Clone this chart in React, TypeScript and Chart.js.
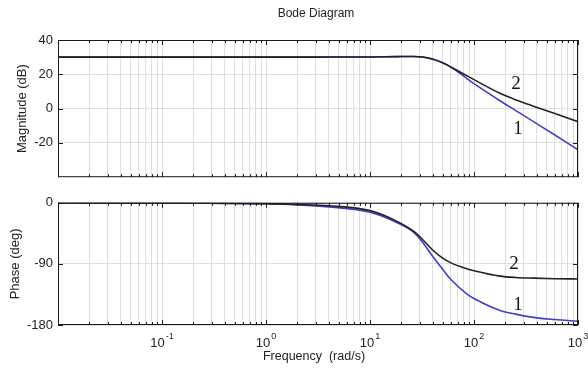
import React, { useEffect, useRef } from "react";
import { Chart, registerables } from "chart.js";

Chart.register(...registerables);

// ---- data ----
const freqs = [0.01, 0.1, 1, 2, 4, 10, 18, 26, 32, 40, 50, 60, 85, 100, 178, 250, 373, 600, 1000];

const mag1 = [30.0, 30.0, 30.0, 30.0, 30.05, 30.1, 30.3, 30.4, 30.1, 28.8, 26.6, 24.2, 17.6, 14.6, 4.6, -1.0, -7.6, -15.4, -24.0];
const mag2 = [30.0, 30.0, 30.0, 30.0, 30.05, 30.1, 30.3, 30.4, 30.1, 28.9, 26.8, 24.3, 19.2, 16.9, 8.9, 5.2, 1.4, -2.9, -7.6];

const phase1 = [-0.02, -0.15, -1.5, -3, -6, -14, -29, -43, -58, -78.6, -98, -113, -134, -141, -158.5, -164, -168.8, -172, -174.5];
const phase2 = [-0.02, -0.13, -1.3, -2.6, -4.4, -11.5, -27, -41.5, -54, -69.5, -81.5, -88.5, -97, -100, -108, -110, -111, -111.8, -112.2];

const decades = [0.01, 0.1, 1, 10, 100, 1000];
const minorMultipliers = [1, 2, 3, 4, 5, 6, 7, 8, 9];
const xLabelValues = [0.1, 1, 10, 100, 1000];
const xLabelExps = ["-1", "0", "1", "2", "3"];

const magTicks = [-20, 0, 20, 40];
const phaseTicks = [-180, -90, 0];

const magNotes = [
  { text: "2", f: 254, v: 14.5 },
  { text: "1", f: 265, v: -12 },
];
const phaseNotes = [
  { text: "2", f: 243, v: -90 },
  { text: "1", f: 265, v: -150 },
];

// ---- styling ----
const BLUE = "#4040c8";
const BLACK = "#222222";
const GRID = "#dedede";
const SANS = "'Liberation Sans', Arial, sans-serif";
const SERIF = "'Liberation Serif', 'Times New Roman', serif";

const gridFreqs: number[] = [];
decades.forEach((d) => {
  minorMultipliers.forEach((m) => {
    const v = +(d * m).toPrecision(3);
    if (v <= 1000) gridFreqs.push(v);
  });
});

function pts(ys: number[]) {
  return freqs.map((f, i) => ({ x: f, y: ys[i] }));
}

function panelPlugin(o: {
  yTicks: number[];
  yTitle: string;
  yTitleOffset: number;
  notes: { text: string; f: number; v: number }[];
  title?: string;
  bottomAxis?: boolean;
}) {
  return {
    id: "panel",
    afterDraw(chart: any) {
      const ctx: CanvasRenderingContext2D = chart.ctx;
      const { left, right, top, bottom } = chart.chartArea;
      const xs = chart.scales.x;
      const ys = chart.scales.y;
      ctx.save();
      ctx.strokeStyle = "#1a1a1a";
      ctx.lineWidth = 1;
      ctx.beginPath();
      gridFreqs.forEach((v) => {
        const px = Math.round(xs.getPixelForValue(v)) + 0.5;
        const len = decades.includes(v) ? 5 : 3;
        ctx.moveTo(px, top);
        ctx.lineTo(px, top + len);
        ctx.moveTo(px, bottom);
        ctx.lineTo(px, bottom - len);
      });
      o.yTicks.forEach((v) => {
        const py = Math.round(ys.getPixelForValue(v)) + 0.5;
        ctx.moveTo(left, py);
        ctx.lineTo(left + 5, py);
        ctx.moveTo(right, py);
        ctx.lineTo(right - 5, py);
      });
      ctx.stroke();
      ctx.strokeRect(left + 0.5, top + 0.5, right - left - 1, bottom - top - 1);

      // annotations
      ctx.fillStyle = "#111";
      ctx.font = "19px " + SERIF;
      ctx.textAlign = "center";
      ctx.textBaseline = "middle";
      o.notes.forEach((n) => {
        ctx.fillText(n.text, xs.getPixelForValue(n.f), ys.getPixelForValue(n.v));
      });

      // y title
      ctx.fillStyle = "#222";
      ctx.font = "13px " + SANS;
      ctx.save();
      ctx.translate(left - o.yTitleOffset, (top + bottom) / 2);
      ctx.rotate(-Math.PI / 2);
      ctx.fillText(o.yTitle, 0, 0);
      ctx.restore();

      if (o.title) {
        ctx.font = "12px " + SANS;
        ctx.fillText(o.title, (left + right) / 2 - 2, 13.5);
      }

      if (o.bottomAxis) {
        xLabelValues.forEach((v, i) => {
          const px = xs.getPixelForValue(v);
          ctx.font = "13px " + SANS;
          const wBase = ctx.measureText("10").width;
          ctx.font = "9px " + SANS;
          const wExp = ctx.measureText(xLabelExps[i]).width;
          const start = px - (wBase + wExp + 1) / 2;
          ctx.textAlign = "left";
          ctx.font = "13px " + SANS;
          ctx.fillText("10", start, bottom + 18);
          ctx.font = "9px " + SANS;
          ctx.fillText(xLabelExps[i], start + wBase + 1, bottom + 12);
        });
        ctx.textAlign = "center";
        ctx.font = "12.5px " + SANS;
        ctx.fillText("Frequency  (rad/s)", (left + right) / 2 - 4, bottom + 32);
      }
      ctx.restore();
    },
  };
}

function makeConfig(
  s1: number[],
  s2: number[],
  yMin: number,
  yMax: number,
  yTicks: number[],
  padding: any,
  plugin: any
) {
  return {
    type: "line" as const,
    data: {
      datasets: [
        {
          label: "2",
          data: pts(s2),
          borderColor: BLACK,
          borderWidth: 1.6,
          pointRadius: 0,
          cubicInterpolationMode: "monotone" as const,
          fill: false,
        },
        {
          label: "1",
          data: pts(s1),
          borderColor: BLUE,
          borderWidth: 1.6,
          pointRadius: 0,
          cubicInterpolationMode: "monotone" as const,
          fill: false,
        },
      ],
    },
    options: {
      animation: false as const,
      responsive: false,
      maintainAspectRatio: false,
      layout: { padding },
      plugins: {
        legend: { display: false },
        tooltip: { enabled: false },
        title: { display: false },
      },
      scales: {
        x: {
          type: "logarithmic" as const,
          min: 0.01,
          max: 1000,
          afterBuildTicks: (s: any) => {
            s.ticks = gridFreqs.map((v) => ({ value: v }));
          },
          ticks: { display: false },
          grid: { color: GRID, lineWidth: 1, drawTicks: false },
          border: { display: false },
          afterFit: (s: any) => {
            s.height = 0;
          },
        },
        y: {
          min: yMin,
          max: yMax,
          afterBuildTicks: (s: any) => {
            s.ticks = yTicks.map((v) => ({ value: v }));
          },
          ticks: {
            font: { family: SANS, size: 13 },
            color: "#222",
            padding: 5,
          },
          grid: { color: GRID, lineWidth: 1, drawTicks: false },
          border: { display: false },
          afterFit: (s: any) => {
            s.width = 58;
          },
        },
      },
    },
    plugins: [plugin],
  };
}

export default function App() {
  const topRef = useRef<HTMLCanvasElement>(null);
  const botRef = useRef<HTMLCanvasElement>(null);

  useEffect(() => {
    const top = new Chart(
      topRef.current as HTMLCanvasElement,
      makeConfig(
        mag1,
        mag2,
        -40,
        40,
        magTicks,
        { left: 0, top: 40, right: 10, bottom: 7 },
        panelPlugin({
          yTicks: magTicks,
          yTitle: "Magnitude (dB)",
          yTitleOffset: 36,
          notes: magNotes,
          title: "Bode Diagram",
        })
      ) as any
    );
    const bot = new Chart(
      botRef.current as HTMLCanvasElement,
      makeConfig(
        phase1,
        phase2,
        -180,
        0,
        phaseTicks,
        { left: 0, top: 8, right: 10, bottom: 49 },
        panelPlugin({
          yTicks: phaseTicks,
          yTitle: "Phase (deg)",
          yTitleOffset: 43,
          notes: phaseNotes,
          bottomAxis: true,
        })
      ) as any
    );
    return () => {
      top.destroy();
      bot.destroy();
    };
  }, []);

  return (
    <div
      style={{
        position: "fixed",
        left: 0,
        top: 0,
        width: 588,
        height: 374,
        background: "#fff",
      }}
    >
      <canvas
        ref={topRef}
        width={588}
        height={190}
        style={{ position: "absolute", left: 0, top: 0, width: 588, height: 190 }}
      />
      <canvas
        ref={botRef}
        width={588}
        height={184}
        style={{ position: "absolute", left: 0, top: 190, width: 588, height: 184 }}
      />
    </div>
  );
}
